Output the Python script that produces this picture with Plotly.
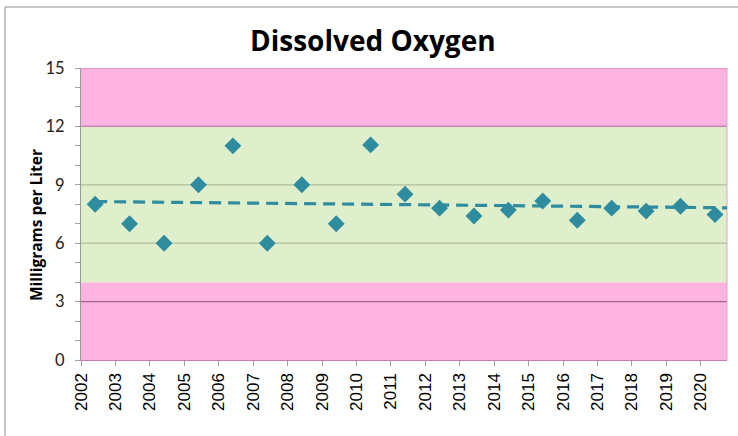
import numpy as np
import pandas as pd
import plotly.graph_objects as go

# ---- data ----
years = list(range(2002, 2021))
sample_day = "05-31"
do_values = [8.0, 7.0, 6.0, 9.0, 11.0, 6.0, 9.0, 7.0, 11.05, 8.52,
             7.8, 7.4, 7.7, 8.17, 7.18, 7.8, 7.65, 7.9, 7.47]
y_ticks = [0, 3, 6, 9, 12, 15]
x_tick_labels = [str(y) for y in years]
band_low = 4
band_high = 12
x_range = ["2002-01-01", "2020-10-05"]

dates = pd.to_datetime([f"{y}-{sample_day}" for y in years])

# linear trend (least squares), projected to the end of the axis
t0 = dates[0]
tx = np.array([(d - t0).days for d in dates], dtype=float)
slope, intercept = np.polyfit(tx, np.array(do_values), 1)
trend_end = pd.Timestamp(x_range[1])
trend_x = [dates[0], trend_end]
trend_y = [intercept, intercept + slope * (trend_end - t0).days]

teal = "#2E8C9E"
pink = "#FDB3E0"
green = "#DFEFCB"

fig = go.Figure()
fig.add_trace(go.Scatter(x=trend_x, y=trend_y, mode="lines",
                         line=dict(color=teal, width=3.2, dash="12px,7px"),
                         hoverinfo="skip", showlegend=False))
fig.add_trace(go.Scatter(x=dates, y=do_values, mode="markers",
                         marker=dict(symbol="diamond", size=13, color=teal,
                                     line=dict(width=0)),
                         showlegend=False))

shapes = []
# bands
shapes.append(dict(type="rect", xref="x domain", yref="y", x0=0, x1=1, y0=0, y1=band_low,
                   fillcolor=pink, line=dict(width=0), layer="below"))
shapes.append(dict(type="rect", xref="x domain", yref="y", x0=0, x1=1, y0=band_low, y1=band_high,
                   fillcolor=green, line=dict(width=0), layer="below"))
shapes.append(dict(type="rect", xref="x domain", yref="y", x0=0, x1=1, y0=band_high, y1=15,
                   fillcolor=pink, line=dict(width=0), layer="below"))
# gridlines coloured by band
for v in y_ticks[1:-1]:
    if band_low < v < band_high:
        col = "#B2BE9C"
    elif v == band_high:
        col = "#C47CAC"
    else:
        col = "#A3628E"
    shapes.append(dict(type="line", xref="x domain", yref="y", x0=0, x1=1, y0=v, y1=v,
                       line=dict(color=col, width=1.3), layer="below"))
# band top edge line
shapes.append(dict(type="line", xref="x domain", yref="y", x0=0, x1=1, y0=15, y1=15,
                   line=dict(color="#C47CAC", width=1), layer="below"))
shapes.append(dict(type="line", xref="x domain", yref="y", x0=1, x1=1, y0=0, y1=15,
                   line=dict(color="#E8A0CC", width=1), layer="below"))
# chart outer border: top edge and left edge (the rest is cropped)
shapes.append(dict(type="line", xref="paper", yref="paper",
                   x0=-0.1176, x1=1.05, y0=1.209, y1=1.209,
                   line=dict(color="#8C8C8C", width=1), layer="below"))
shapes.append(dict(type="line", xref="paper", yref="paper",
                   x0=-0.1176, x1=-0.1176, y0=-0.26, y1=1.209,
                   line=dict(color="#8C8C8C", width=1), layer="below"))

fig.update_layout(
    width=738, height=436,
    margin=dict(l=81, r=11, t=68, b=76),
    paper_bgcolor="white", plot_bgcolor="white",
    shapes=shapes,
    showlegend=False,
    annotations=[
        dict(text="<b>Dissolved Oxygen</b>", xref="paper", yref="paper",
             x=0.452, y=1.096, xanchor="center", yanchor="middle", showarrow=False,
             font=dict(family="Open Sans", size=28, color="black")),
        dict(text="<b>Milligrams per Liter</b>", xref="paper", yref="paper",
             x=-0.0697, y=0.462, xanchor="center", yanchor="middle", showarrow=False,
             textangle=-90, font=dict(family="Open Sans", size=15.5, color="black")),
    ],
    xaxis=dict(
        type="date", range=x_range,
        tickmode="array",
        tickvals=[f"{y}-01-01" for y in years], ticktext=x_tick_labels,
        tickangle=-90,
        ticks="outside", ticklen=5, tickcolor="#A0A0A0", tickwidth=1,
        showgrid=False, zeroline=False,
        showline=True, linecolor="#C47CAC", linewidth=1.3,
        tickfont=dict(family="Liberation Sans", size=17, color="black"),
    ),
    yaxis=dict(
        range=[0, 15], tickvals=y_ticks,
        ticks="outside", ticklen=5, tickcolor="#A0A0A0", tickwidth=1,
        minor=dict(dtick=1, ticks="outside", ticklen=5, tickcolor="#A0A0A0", showgrid=False),
        showgrid=False, zeroline=False,
        showline=True, linecolor="#9A9A9A", linewidth=1,
        tickfont=dict(family="Lato", size=16.5, color="#222"),
        ticklabelstandoff=7,
    ),
)

fig.write_html(
    "out.html",
    config={"displayModeBar": False, "staticPlot": True},
    post_script=("document.body.style.margin='0';"
                 "document.documentElement.style.margin='0';"
                 "document.body.style.overflow='hidden';"
                 "document.documentElement.style.overflow='hidden';"),
)
